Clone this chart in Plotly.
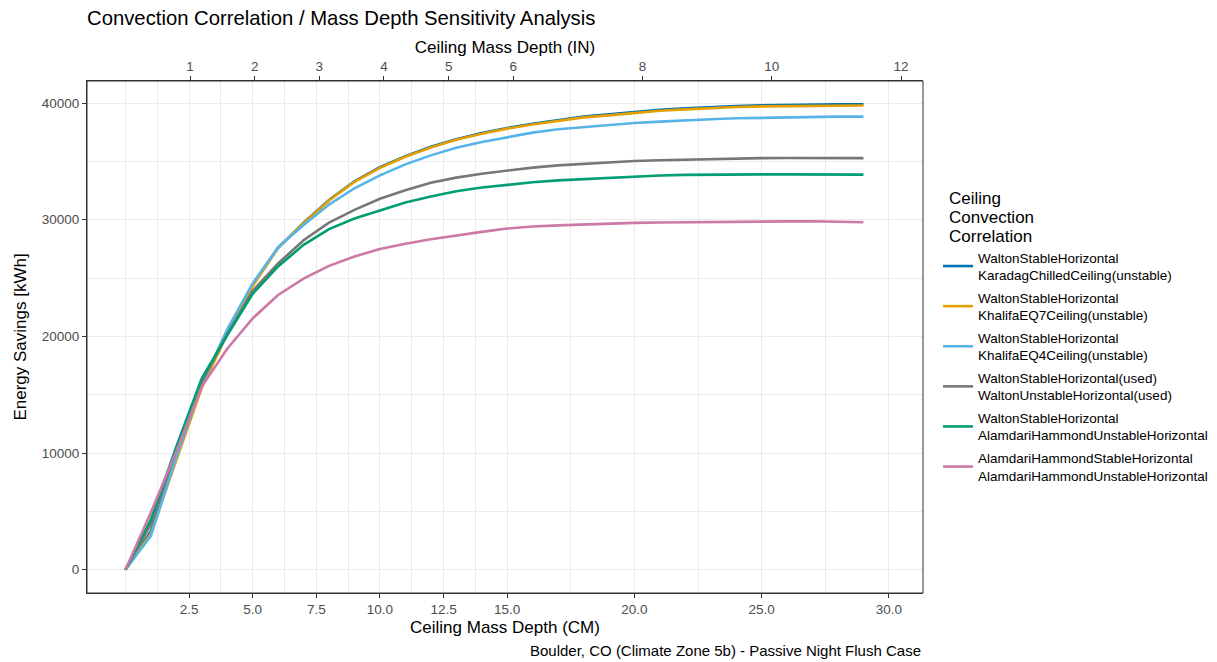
import plotly.graph_objects as go

depth_cm = [0, 1, 2, 3, 4, 5, 6, 7, 8, 9, 10, 11, 12, 13, 14, 15, 16, 17, 18, 19,
            20, 21, 22, 23, 24, 25, 26, 27, 28, 29]

series_names = [
    "WaltonStableHorizontal<br>KaradagChilledCeiling(unstable)",
    "WaltonStableHorizontal<br>KhalifaEQ7Ceiling(unstable)",
    "WaltonStableHorizontal<br>KhalifaEQ4Ceiling(unstable)",
    "WaltonStableHorizontal(used)<br>WaltonUnstableHorizontal(used)",
    "WaltonStableHorizontal<br>AlamdariHammondUnstableHorizontal",
    "AlamdariHammondStableHorizontal<br>AlamdariHammondUnstableHorizontal",
]
series_colors = ["#0072B2", "#E69F00", "#56B4E9", "#777777", "#009E73", "#CC79A7"]
legend_title_lines = ["Ceiling", "Convection", "Correlation"]

karadag = [0, 3300, 9650, 15900, 20400, 24400, 27600, 29750, 31700, 33300, 34500, 35450,
           36250, 36900, 37430, 37870, 38230, 38560, 38840, 39030, 39260, 39430, 39550,
           39660, 39750, 39810, 39850, 39880, 39900, 39900]
khalifa7 = [0, 3100, 9400, 15600, 20200, 24300, 27600, 29700, 31650, 33250, 34450, 35400,
            36200, 36850, 37380, 37810, 38170, 38500, 38780, 38950, 39180, 39350, 39460,
            39570, 39660, 39720, 39750, 39780, 39810, 39800]
khalifa4 = [0, 2900, 9700, 15850, 20600, 24550, 27650, 29550, 31300, 32700, 33800, 34750,
            35520, 36180, 36660, 37090, 37470, 37760, 37950, 38130, 38300, 38410, 38530,
            38610, 38700, 38750, 38780, 38810, 38840, 38840]
walton = [0, 3900, 10300, 16100, 20200, 23900, 26250, 28250, 29750, 30850, 31800, 32530,
          33180, 33610, 33950, 34240, 34470, 34660, 34800, 34900, 35040, 35100, 35160,
          35210, 35260, 35280, 35290, 35290, 35290, 35280]
walton_alamdari = [0, 4300, 10550, 16400, 20100, 23650, 26000, 27850, 29200, 30100, 30800,
                   31470, 32000, 32440, 32760, 33010, 33210, 33380, 33500, 33620, 33720,
                   33800, 33850, 33880, 33890, 33890, 33890, 33890, 33880, 33870]
alamdari = [0, 4900, 10150, 15700, 18950, 21550, 23550, 24950, 26050, 26850, 27500, 27950,
            28330, 28670, 28960, 29250, 29420, 29520, 29600, 29670, 29730, 29770, 29800,
            29820, 29840, 29850, 29860, 29870, 29850, 29790]

series_values = [karadag, khalifa7, khalifa4, walton, walton_alamdari, alamdari]

cm_ticks = [2.5, 5.0, 7.5, 10.0, 12.5, 15.0, 20.0, 25.0, 30.0]
cm_labels = ["2.5", "5.0", "7.5", "10.0", "12.5", "15.0", "20.0", "25.0", "30.0"]
cm_minor = [0, 1.25, 3.75, 6.25, 8.75, 11.25, 13.75, 17.5, 22.5, 27.5]
in_ticks = [1, 2, 3, 4, 5, 6, 8, 10, 12]
y_ticks = [0, 10000, 20000, 30000, 40000]

FONT = "Liberation Sans, Arial, sans-serif"
X_RANGE = [-1.51, 31.34]
Y_RANGE = [-1995, 41895]
TXT = 13.5
TTL = 17
OFF = 8  # page body margin
PANEL_H = 512

fig = go.Figure()
for name, color, vals in zip(series_names, series_colors, series_values):
    fig.add_trace(go.Scatter(
        x=depth_cm, y=vals, mode="lines", name=name, legendgroup=name,
        line=dict(color=color, width=2.6),
    ))

# anchor trace for the secondary (inch) axis
fig.add_trace(go.Scatter(x=[d / 2.54 for d in depth_cm[:1]], y=[None], xaxis="x2",
                         mode="lines", showlegend=False, hoverinfo="skip"))

axis_common = dict(
    showline=True, linecolor="#333333", linewidth=1, mirror=False,
    ticks="outside", ticklen=4, tickcolor="#333333", tickwidth=1,
    tickfont=dict(family=FONT, size=TXT, color="#4D4D4D"),
    zeroline=False, automargin=False,
)

fig.update_layout(
    width=1217, height=662,
    paper_bgcolor="white", plot_bgcolor="white",
    margin=dict(l=87 - OFF, r=294 + OFF, t=81 - OFF, b=69 + OFF, autoexpand=False),
    font=dict(family=FONT, color="black"),
    title=dict(text="Convection Correlation / Mass Depth Sensitivity Analysis",
               font=dict(family=FONT, size=20.3, color="black"),
               x=0, xref="paper", xanchor="left", y=1 - (18 - OFF) / 662, yanchor="middle"),
    xaxis=dict(
        range=X_RANGE, tickmode="array", tickvals=cm_ticks, ticktext=cm_labels,
        showgrid=True, gridcolor="#EBEBEB", gridwidth=1.1,
        minor=dict(tickmode="array", tickvals=cm_minor, showgrid=True,
                   gridcolor="#EBEBEB", gridwidth=0.6, ticks=""),
        title=dict(text="Ceiling Mass Depth (CM)", font=dict(family=FONT, size=TTL, color="black"),
                   standoff=4),
        **axis_common,
    ),
    xaxis2=dict(
        overlaying="x", side="top", range=[X_RANGE[0] / 2.54, X_RANGE[1] / 2.54],
        tickmode="array", tickvals=in_ticks, ticktext=[str(t) for t in in_ticks],
        showgrid=False, anchor="y",
        title=dict(text="Ceiling Mass Depth (IN)", font=dict(family=FONT, size=TTL, color="black"),
                   standoff=0),
        **axis_common,
    ),
    yaxis=dict(
        range=Y_RANGE, tickmode="array", tickvals=y_ticks, ticktext=[str(t) for t in y_ticks],
        showgrid=True, gridcolor="#EBEBEB", gridwidth=1.1,
        minor=dict(tickmode="array", tickvals=[5000, 15000, 25000, 35000], showgrid=True,
                   gridcolor="#EBEBEB", gridwidth=0.6, ticks=""),
        title=dict(text="Energy Savings [kWh]", font=dict(family=FONT, size=TTL, color="black"),
                   standoff=10),
        **axis_common,
    ),
    legend=dict(
        x=1.018, xanchor="left", y=(593 - 242) / PANEL_H, yanchor="top",
        font=dict(family=FONT, size=TXT, color="black"),
        tracegroupgap=2, itemwidth=30, bgcolor="rgba(0,0,0,0)",
    ),
    showlegend=True,
)

# legend title, one line per annotation (tighter line spacing)
for line_text, y_px in zip(legend_title_lines, [198, 217, 236]):
    fig.add_annotation(text=line_text, xref="paper", yref="paper",
                       x=(947 - 87) / 836, y=(593 - y_px) / PANEL_H,
                       xanchor="left", yanchor="middle", showarrow=False,
                       font=dict(family=FONT, size=TTL, color="black"))

# panel border
fig.add_shape(type="rect", xref="paper", yref="paper", x0=0, y0=0, x1=1, y1=1,
              line=dict(color="#333333", width=1), fillcolor="rgba(0,0,0,0)", layer="above")

fig.add_annotation(text="Boulder, CO (Climate Zone 5b) - Passive Night Flush Case",
                   xref="paper", yref="paper", x=1, y=-57 / PANEL_H, xanchor="right",
                   yanchor="middle", showarrow=False,
                   font=dict(family=FONT, size=15, color="black"))

fig.write_html("out.html")
